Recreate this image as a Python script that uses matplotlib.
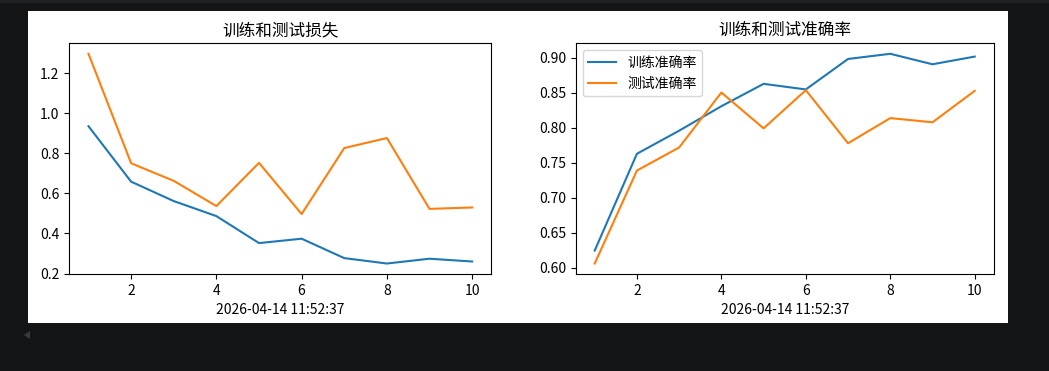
import matplotlib
matplotlib.use("Agg")
import matplotlib.pyplot as plt
from matplotlib.patches import Rectangle, Polygon

plt.rcParams['font.family'] = ['Noto Sans CJK SC', 'DejaVu Sans']
plt.rcParams['axes.unicode_minus'] = False

epochs = [1, 2, 3, 4, 5, 6, 7, 8, 9, 10]
train_loss = [0.936, 0.659, 0.562, 0.487, 0.352, 0.374, 0.277, 0.250, 0.274, 0.260]
test_loss = [1.298, 0.751, 0.663, 0.537, 0.753, 0.497, 0.827, 0.877, 0.523, 0.530]
train_acc = [0.6245, 0.763, 0.796, 0.831, 0.863, 0.855, 0.8986, 0.906, 0.891, 0.902]
test_acc = [0.606, 0.739, 0.772, 0.8506, 0.7993, 0.854, 0.778, 0.814, 0.808, 0.853]
timestamp = "2026-04-14 11:52:37"

W, H = 1049, 371
fig = plt.figure(figsize=(W / 100, H / 100), dpi=100, facecolor='#131416')

# white notebook output area on the dark page
fig.patches.append(Rectangle((28 / W, 1 - 323 / H), 980 / W, 312.5 / H,
                             transform=fig.transFigure, facecolor='white',
                             edgecolor='none', zorder=-2))
fig.patches.append(Rectangle((0, 1 - 2.5 / H), 1, 2.5 / H,
                             transform=fig.transFigure, facecolor='#202124',
                             edgecolor='none', zorder=-2))
fig.patches.append(Polygon([(24 / W, 1 - 335 / H), (30 / W, 1 - 331 / H), (30 / W, 1 - 339 / H)],
                           closed=True, transform=fig.transFigure,
                           facecolor='#3a3b3e', edgecolor='none', zorder=-2))


def px_axes(x0, x1, y0, y1):
    return fig.add_axes([x0 / W, 1 - y1 / H, (x1 - x0) / W, (y1 - y0) / H])


ax1 = px_axes(69.3, 491.3, 43.3, 274)
ax1.plot(epochs, train_loss, label='训练损失')
ax1.plot(epochs, test_loss, label='测试损失')
ax1.set_title('训练和测试损失', fontsize=12)
ax1.set_xlabel(timestamp)

ax2 = px_axes(575.7, 993.7, 43.3, 274)
ax2.plot(epochs, train_acc, label='训练准确率')
ax2.plot(epochs, test_acc, label='测试准确率')
ax2.set_title('训练和测试准确率', fontsize=12)
ax2.set_xlabel(timestamp)
ax2.legend(loc='upper left')

fig.savefig('out.png', dpi=100, facecolor=fig.get_facecolor())
